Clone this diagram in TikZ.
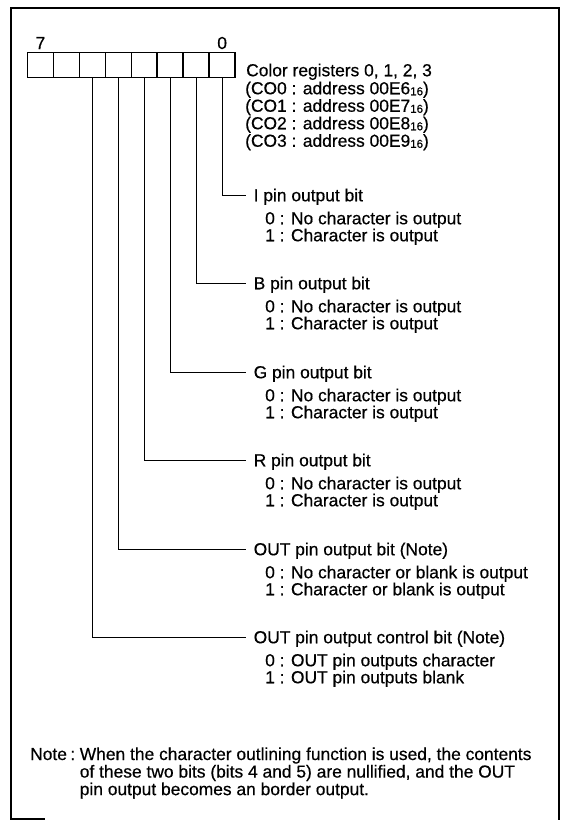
\documentclass[tikz,border=0pt]{standalone}
\usepackage{fontspec}
\setmainfont{Liberation Sans}[FakeBold=0.5]

\newcommand{\hexsub}[1]{\raisebox{-1pt}{\fontsize{11.5}{12}\selectfont #1}}

\begin{document}
\begin{tikzpicture}[x=1pt, y=-1pt, line join=miter,
	every node/.style={font=\fontsize{17.4}{17}\selectfont, inner sep=0pt, text height=12.5pt, text depth=0pt},
	cell/.style={draw, line width=1.6pt, minimum width=25.95pt, minimum height=25pt, anchor=north west, text height=, text depth=},
	pinttl/.style={anchor=west, inner xsep=7.5pt},
	pinval/.style={anchor=west}]
	\useasboundingbox (0,0) rectangle (563,820);
	% outer frame
	\draw[line width=2pt] (11,820) -- (11,8) -- (559,8) -- (559,820);
	\draw[line width=1.5pt] (11,819) -- (45,819);
	% register cells, bit 7 on the left
	\foreach \i in {0,...,7}
		\node[cell] (b\i) at ({26.7+(7-\i)*25.95},51.7) {};
	\node[above=2.5pt] (n7) at (b7.north) {7};
	\node[above=2.5pt] (n0) at (b0.north) {0};
	% register name and addresses
	\node[pinval] (reg) at (246,70) {Color registers 0, 1, 2, 3};
	\foreach \k/\a/\y in {0/6/88,1/7/105.5,2/8/123,3/9/140.5}
		\node[pinval] (co\k) at (245,\y) {(CO\k\ : address 00E\a\hexsub{16})};
	% one bracket per bit 0..5
	\foreach \b/\y/\ttl/\za/\zb in {
		0/194/{I pin output bit}/{No character is output}/{Character is output},
		1/282/{B pin output bit}/{No character is output}/{Character is output},
		2/371/{G pin output bit}/{No character is output}/{Character is output},
		3/459/{R pin output bit}/{No character is output}/{Character is output},
		4/548/{OUT pin output bit (Note)}/{No character or blank is output}/{Character or blank is output},
		5/636/{OUT pin output control bit (Note)}/{OUT pin outputs character}/{OUT pin outputs blank}} {
		\node[pinttl] (t\b) at (246,\y+1) {\ttl};
		\node[pinval] (z\b) at (265,\y+24) {0 : \za};
		\node[pinval] (o\b) at (265,\y+41) {1 : \zb};
		\draw[line width=1pt] (b\b.south) |- (t\b.west);
	}
	% note
	\node[anchor=base west, text height=, text depth=, font=\fontsize{17.4}{16.5}\selectfont] (note) at (30,760)
		{\begin{tabular}[t]{@{}l@{\hspace{4.5pt}}l@{}}
		Note\hspace{3.5pt}: & When the character outlining function is used, the contents\\
		& of these two bits (bits 4 and 5) are nullified, and the OUT\\
		& pin output becomes an border output.
		\end{tabular}};
\end{tikzpicture}
\end{document}
